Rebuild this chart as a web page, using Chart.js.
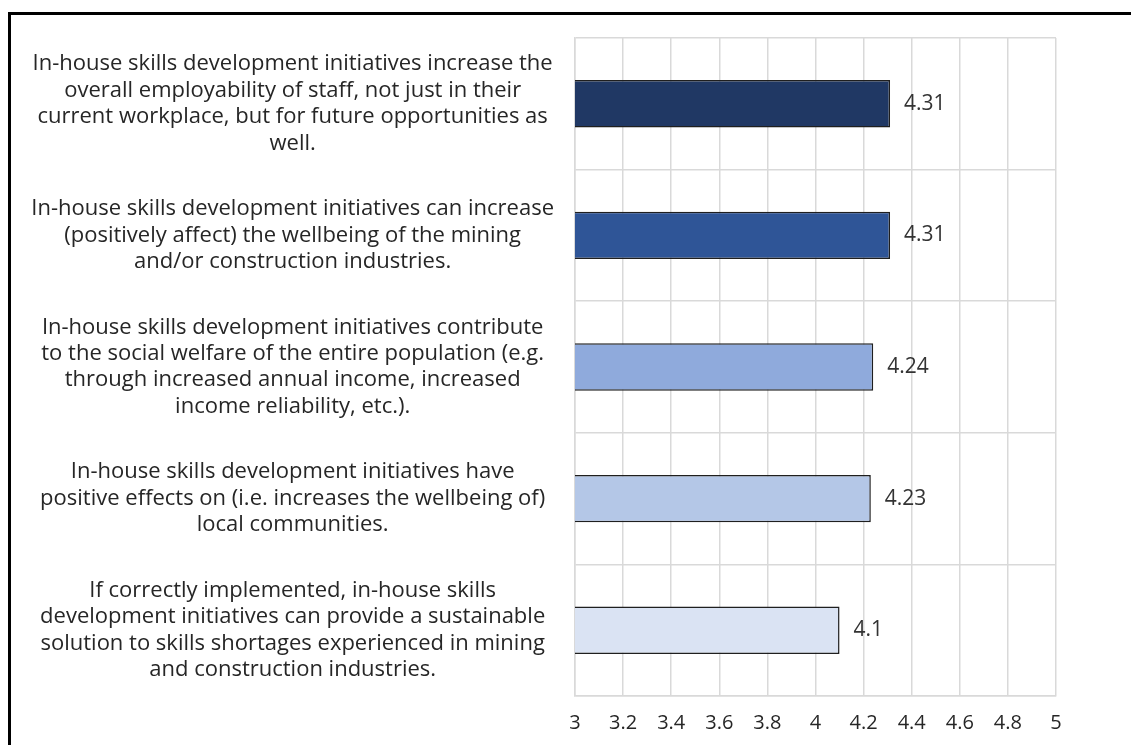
<!DOCTYPE html>
<html>
<head>
<meta charset="utf-8">
<script src="https://cdn.jsdelivr.net/npm/chart.js@4.4.1/dist/chart.umd.min.js"></script>
<style>
    html, body { margin: 0; padding: 0; background: #fff; overflow: hidden; }
    .frame {
        position: absolute; left: 8px; top: 12px;
        width: 1200px; height: 800px;
        border: 3px solid #000;
    }
    .chartBox { position: absolute; left: 0; top: 0; width: 1131px; height: 745px; }
</style>
</head>
<body>
<div class="frame"></div>
<div class="chartBox"><canvas id="skillsChart" width="1131" height="745"></canvas></div>
<script>
// Datos del gráfico
const categories = [
    ["In-house skills development initiatives increase the", "overall employability of staff, not just in their", "current workplace, but for future opportunities as", "well."],
    ["In-house skills development initiatives can increase", "(positively affect) the wellbeing of the mining", "and/or construction industries."],
    ["In-house skills development initiatives contribute", "to the social welfare of the entire population (e.g.", "through increased annual income, increased", "income reliability, etc.)."],
    ["In-house skills development initiatives have", "positive effects on (i.e. increases the wellbeing of)", "local communities."],
    ["If correctly implemented, in-house skills", "development initiatives can provide a sustainable", "solution to skills shortages experienced in mining", "and construction industries."]
];
const meanScores = [4.31, 4.31, 4.24, 4.23, 4.1];
const barColors = ['#203864', '#2f5597', '#8faadc', '#b4c7e7', '#dae3f3'];
const xTicks = ['3', '3.2', '3.4', '3.6', '3.8', '4', '4.2', '4.4', '4.6', '4.8', '5'];

const fontFamily = "'Open Sans', 'Noto Sans', sans-serif";

// Etiquetas de valor a la derecha de cada barra
const valueLabels = {
    id: 'valueLabels',
    afterDatasetsDraw(chart) {
        const ctx = chart.ctx;
        const meta = chart.getDatasetMeta(0);
        ctx.save();
        ctx.font = "21px " + fontFamily;
        ctx.fillStyle = '#333333';
        ctx.textAlign = 'left';
        ctx.textBaseline = 'middle';
        meta.data.forEach((bar, i) => {
            ctx.fillText(String(meanScores[i]), bar.x + 14, bar.y);
        });
        ctx.restore();
    }
};

const ctx = document.getElementById('skillsChart').getContext('2d');

new Chart(ctx, {
    type: 'bar',
    data: {
        labels: categories,
        datasets: [{
            data: meanScores,
            backgroundColor: barColors,
            borderColor: '#1f1f1f',
            borderWidth: 1.5,
            barPercentage: 1,
            categoryPercentage: 0.36,
        }]
    },
    options: {
        indexAxis: 'y',
        responsive: false,
        animation: false,
        layout: {
            padding: { left: 15, right: 75, top: 38, bottom: 0 }
        },
        plugins: {
            legend: { display: false },
            tooltip: { enabled: false }
        },
        scales: {
            x: {
                min: 3,
                max: 5,
                grid: { color: '#d9d9d9', lineWidth: 1.5, drawTicks: false },
                border: { color: '#d9d9d9', width: 1.5 },
                ticks: {
                    stepSize: 0.2,
                    padding: 15,
                    color: '#262626',
                    font: { family: fontFamily, size: 20 },
                    callback: (value, index) => xTicks[index],
                },
                afterFit: (scale) => { scale.height = 49; }
            },
            y: {
                grid: { color: '#d9d9d9', lineWidth: 1.5, drawTicks: false, offset: true },
                border: { color: '#d9d9d9', width: 1.5 },
                ticks: {
                    padding: 21,
                    crossAlign: 'center',
                    color: '#262626',
                    font: { family: fontFamily, size: 22, lineHeight: 1.2 },
                },
                afterFit: (scale) => {
                    scale.width = 560;
                    // las etiquetas multilínea no deben empujar el área del gráfico
                    scale.paddingTop = 0;
                    scale.paddingBottom = 0;
                }
            }
        }
    },
    plugins: [valueLabels]
});
</script>
</body>
</html>
